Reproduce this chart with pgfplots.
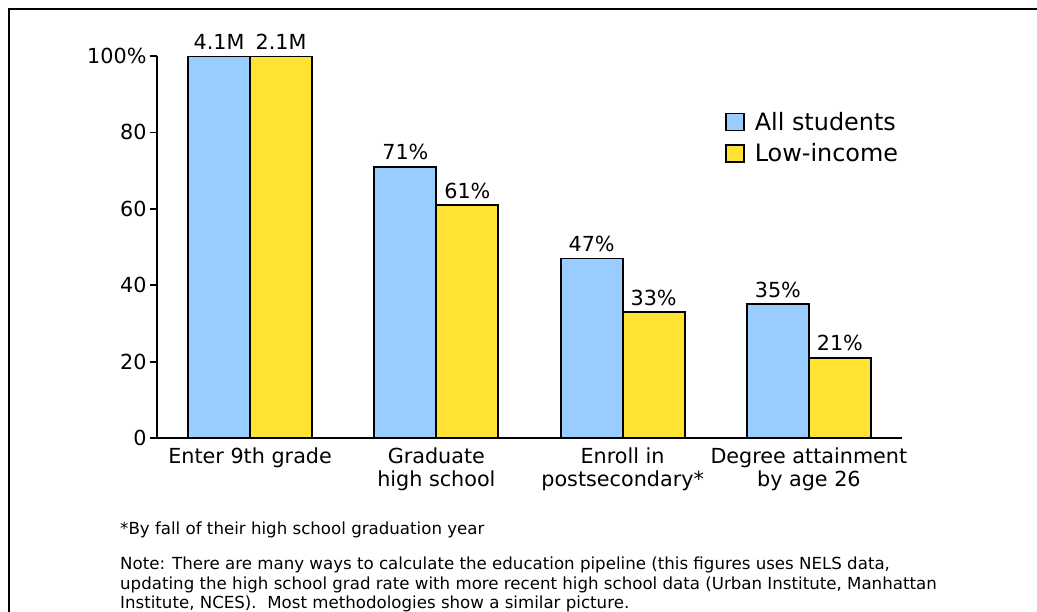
\documentclass[border=0pt]{standalone}
\usepackage{pgfplots}
\pgfplotsset{compat=1.18}
\usepackage{fontspec}
\setmainfont{DejaVu Sans}
\definecolor{barblue}{RGB}{153,204,255}
\definecolor{baryellow}{RGB}{255,227,51}
\pgfplotsset{
  sqlegend/.style={legend image code/.code={%
    \draw[##1,/tikz/.cd,line width=1.8bp] (0bp,-8.5bp) rectangle (18bp,8.5bp);
    \path[draw=none,fill=none] (0bp,0bp) -- (27bp,0bp);}},
}
\begin{document}
\begin{tikzpicture}
\useasboundingbox (0,0) rectangle (1037bp,-612bp);
\draw[line width=2.6bp] (9bp,-630bp) -- (9bp,-9bp) -- (1050bp,-9bp);
\begin{axis}[
  at={(157bp,-438bp)}, anchor=south west,
  width=745bp, height=382bp, scale only axis,
  xmin=-0.5, xmax=3.5, ymin=0, ymax=100,
  axis x line=bottom, axis y line=left,
  axis line style={-, line width=1.8bp},
  ybar=0pt, bar width=62bp,
  xtick={0,1,2,3},
  xticklabels={Enter 9th grade,{Graduate\\high school},{Enroll in\\postsecondary*},{Degree attainment\\by age 26}},
  xticklabel style={align=center, font=\fontsize{20.8}{23}\selectfont, yshift=1bp},
  major x tick style={draw=none},
  ytick={0,20,40,60,80,100},
  yticklabels={0,20,40,60,80,100\%},
  yticklabel style={font=\fontsize{20.8}{23.5}\selectfont},
  tick align=outside, major tick length=7bp,
  every tick/.style={line width=1.8bp, black},
  /pgf/number format/assume math mode=true,
  point meta=explicit symbolic,
  nodes near coords,
  every node near coord/.append style={font=\fontsize{20.8}{23.5}\selectfont, anchor=south, inner sep=0pt, text depth=0pt, yshift=6bp},
  legend style={draw=none, fill=none, at={(0.758,0.864)}, anchor=north west,
    font=\fontsize{24}{28}\selectfont, row sep=8bp},
  legend cell align=left,
]
\addplot[fill=barblue, draw=black, line width=1.8bp, sqlegend] coordinates {(0,100) [4.1M] (1,71) [71\%] (2,47) [47\%] (3,35) [35\%]};
\addplot[fill=baryellow, draw=black, line width=1.8bp, sqlegend] coordinates {(0,100) [2.1M] (1,61) [61\%] (2,33) [33\%] (3,21) [21\%]};
\legend{All students, Low-income}
\end{axis}
\begin{scope}[every node/.style={anchor=base west, inner sep=0pt, font=\fontsize{16.7}{19.5}\selectfont}]
\node at (120bp,-534bp) {*By fall of their high school graduation year};
\node at (120bp,-569bp) {Note: There are many ways to calculate the education pipeline (this figures uses NELS data,};
\node at (120bp,-589bp) {updating the high school grad rate with more recent high school data (Urban Institute, Manhattan};
\node at (120bp,-608bp) {Institute, NCES).\ \ Most methodologies show a similar picture.};
\end{scope}
\end{tikzpicture}
\end{document}
